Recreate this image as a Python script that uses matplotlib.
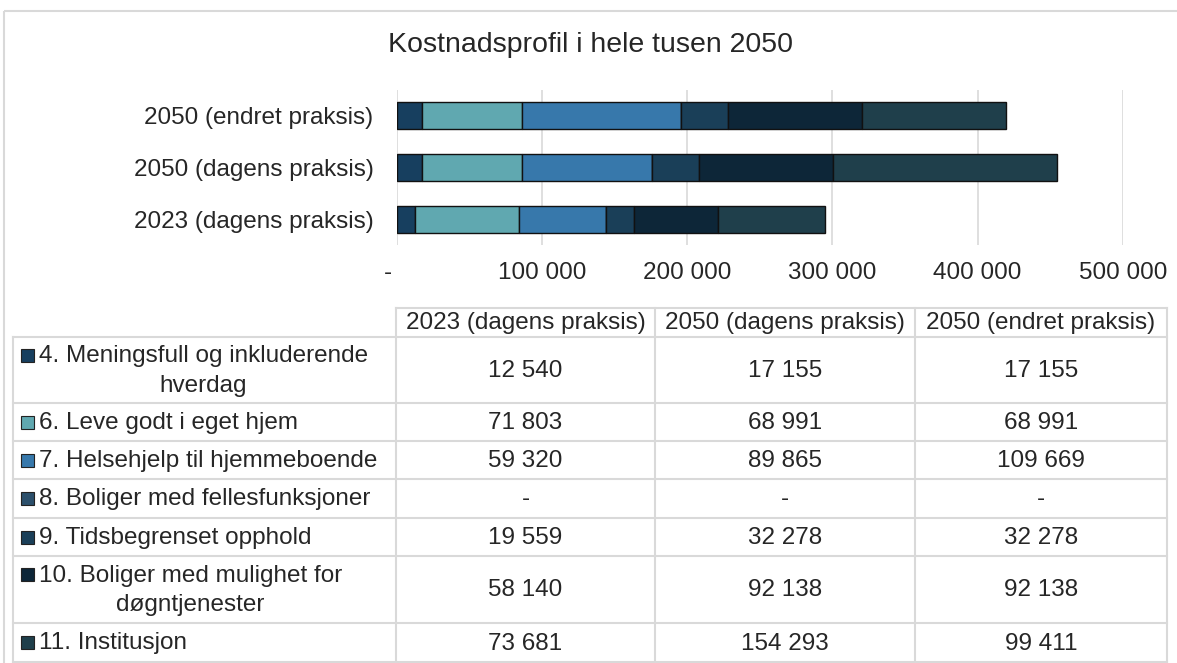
import numpy as np
import matplotlib
matplotlib.use("Agg")
import matplotlib.pyplot as plt
import matplotlib.transforms as mtransforms
from matplotlib.patches import Rectangle

plt.rcParams['font.family'] = ['Liberation Sans', 'DejaVu Sans']

# data
scenarios = ["2023 (dagens praksis)", "2050 (dagens praksis)", "2050 (endret praksis)"]
categories = [
    "4. Meningsfull og inkluderende\nhverdag",
    "6. Leve godt i eget hjem",
    "7. Helsehjelp til hjemmeboende",
    "8. Boliger med fellesfunksjoner",
    "9. Tidsbegrenset opphold",
    "10. Boliger med mulighet for\ndøgntjenester",
    "11. Institusjon",
]
v2023 = [12540, 71803, 59320, 0, 19559, 58140, 73681]
v2050_dagens = [17155, 68991, 89865, 0, 32278, 92138, 154293]
v2050_endret = [17155, 68991, 109669, 0, 32278, 92138, 99411]
bar_colors = ["#173f5f", "#60a8b0", "#3778ab", "#2b4f6b", "#1a3f58", "#0d2638", "#1f3f4b"]
xticks = [0, 100000, 200000, 300000, 400000, 500000]

title = "Kostnadsprofil i hele tusen 2050"
FS = 17.5


def fmt(v):
    if v == 0:
        return "-"
    return f"{v:,}".replace(",", " ")


W, H = 1177, 663
fig = plt.figure(figsize=(W / 100, H / 100), dpi=100)

# background axes in pixel coords for frame + table
bg = fig.add_axes([0, 0, 1, 1])
bg.set_xlim(0, W)
bg.set_ylim(H, 0)
bg.axis('off')

grid_c = "#d9d9d9"
txt_c = "#262626"
bg.add_patch(Rectangle((4, 11), W + 10, H + 10, fill=False, ec=grid_c, lw=1.5))
bg.text(590, 45, title, fontsize=20.5, ha='center', va='center', color=txt_c)

# bar chart
x0, x1 = 397, 1122.7
y_top, y_bot = 90, 245
ax = fig.add_axes([x0 / W, (H - y_bot) / H, (x1 - x0) / W, (y_bot - y_top) / H])
series = [v2023, v2050_dagens, v2050_endret]
data = np.array(series, dtype=float)
ypos = np.arange(len(scenarios))
left = np.zeros(len(scenarios))
for j in range(len(categories)):
    ax.barh(ypos, data[:, j], left=left, height=0.52, color=bar_colors[j],
            edgecolor="#111111", linewidth=1.0, zorder=3)
    left += data[:, j]

ax.set_xlim(0, 500000)
ax.set_ylim(-0.5, 2.5)
ax.set_xticks(xticks)
ax.set_xticklabels([fmt(t) for t in xticks], fontsize=FS, color=txt_c)
ax.set_yticks(ypos)
ax.set_yticklabels(scenarios, fontsize=FS, color=txt_c)
ax.tick_params(axis='x', length=0, pad=12)
ax.tick_params(axis='y', length=0, pad=17)
ax.grid(axis='x', color=grid_c, lw=1.2, zorder=0)
for s in ax.spines.values():
    s.set_visible(False)
ax.set_facecolor('none')
# the zero label sits a little left of the axis, as in the source
zl = ax.get_xticklabels()[0]
zl.set_transform(zl.get_transform() + mtransforms.ScaledTranslation(-9 / 100, 0, fig.dpi_scale_trans))

# data table
col_x = [13, 396, 655, 915, 1167]
row_y = [308, 337, 403, 441, 479, 518, 556, 623, 662]
lc = grid_c
lw = 1.5

# header row (only data columns)
bg.plot([col_x[1], col_x[-1]], [row_y[0], row_y[0]], color=lc, lw=lw)
for y in row_y[1:]:
    bg.plot([col_x[0], col_x[-1]], [y, y], color=lc, lw=lw)
bg.plot([col_x[0], col_x[0]], [row_y[1], row_y[-1]], color=lc, lw=lw)
for x in col_x[1:]:
    bg.plot([x, x], [row_y[0], row_y[-1]], color=lc, lw=lw)

for k, name in enumerate(scenarios):
    cx = (col_x[k + 1] + col_x[k + 2]) / 2
    bg.text(cx, (row_y[0] + row_y[1]) / 2 + 1, name, fontsize=FS, ha='center', va='center', color=txt_c)

for i, cat in enumerate(categories):
    top, bot = row_y[i + 1], row_y[i + 2]
    cy = (top + bot) / 2
    two = "\n" in cat
    first_y = top + 18 if two else cy
    bg.add_patch(Rectangle((21, first_y - 6.5), 13, 13, fc=bar_colors[i], ec="#222222", lw=0.8))
    bg.text(39, cy + 1, cat, fontsize=FS, ha='left', va='center', multialignment='center',
            color=txt_c, linespacing=1.45)
    for k, vals in enumerate(series):
        cx = (col_x[k + 1] + col_x[k + 2]) / 2
        bg.text(cx, cy + 1, fmt(vals[i]), fontsize=FS, ha='center', va='center', color=txt_c)

fig.savefig("out.png", dpi=100)
